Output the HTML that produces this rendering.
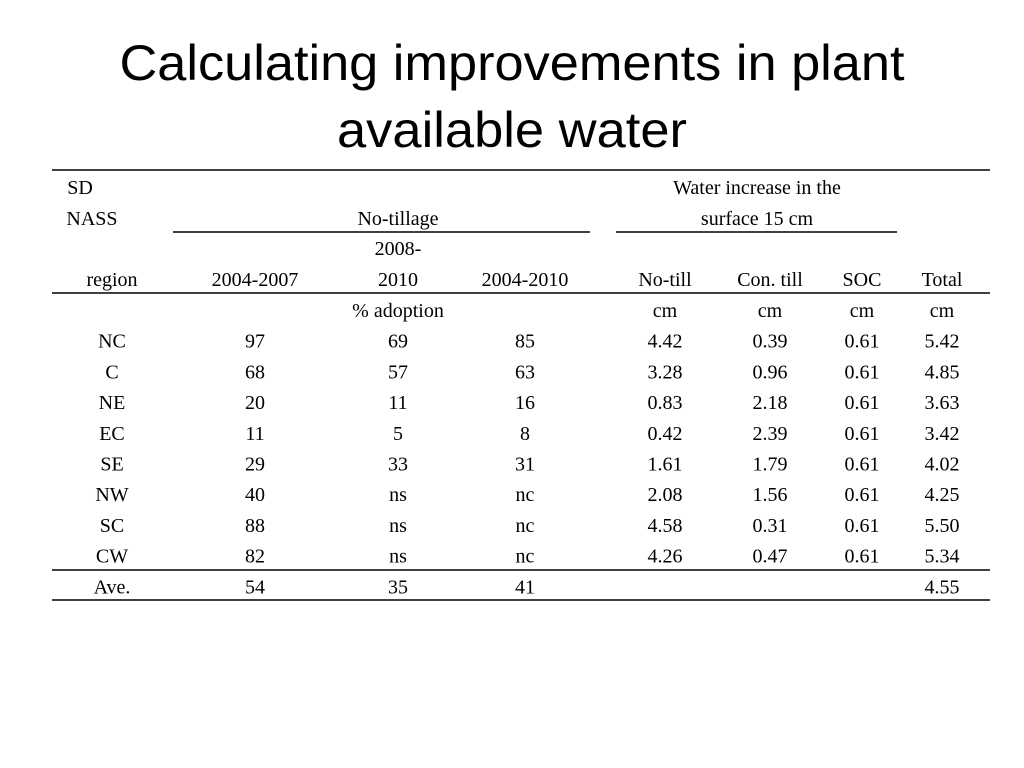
<!DOCTYPE html>
<html><head><meta charset="utf-8"><style>
html,body{margin:0;padding:0;background:#fff;}
svg{display:block;}
.t{font-family:"Liberation Serif",serif;font-size:20px;fill:#000;}
.ttl{font-family:"Liberation Sans",sans-serif;font-size:50px;fill:#000;}
</style></head><body>
<svg id="s" width="1024" height="768">
<text class="ttl" x="512" y="80" text-anchor="middle" textLength="785" lengthAdjust="spacingAndGlyphs">Calculating improvements in plant</text>
<text class="ttl" x="512" y="147" text-anchor="middle" textLength="350" lengthAdjust="spacingAndGlyphs">available water</text>
<g stroke="#000" stroke-width="1.5">
<line x1="52" y1="170" x2="990" y2="170"/>
<line x1="173" y1="232" x2="590" y2="232"/>
<line x1="616" y1="232" x2="897" y2="232"/>
<line x1="52" y1="293" x2="990" y2="293"/>
<line x1="52" y1="570" x2="990" y2="570"/>
<line x1="52" y1="600" x2="990" y2="600"/>
</g>
<g id="hdr">
<text class="t" x="80" y="194" text-anchor="middle">SD</text>
<text class="t" x="92" y="225" text-anchor="middle">NASS</text>
<text class="t" x="398" y="225" text-anchor="middle">No-tillage</text>
<text class="t" x="757" y="194" text-anchor="middle">Water increase in the</text>
<text class="t" x="757" y="225" text-anchor="middle">surface 15 cm</text>
<text class="t" x="398" y="255" text-anchor="middle">2008-</text>
<text class="t" x="112" y="286" text-anchor="middle">region</text>
<text class="t" x="255" y="286" text-anchor="middle">2004-2007</text>
<text class="t" x="398" y="286" text-anchor="middle">2010</text>
<text class="t" x="525" y="286" text-anchor="middle">2004-2010</text>
<text class="t" x="665" y="286" text-anchor="middle">No-till</text>
<text class="t" x="770" y="286" text-anchor="middle">Con. till</text>
<text class="t" x="862" y="286" text-anchor="middle">SOC</text>
<text class="t" x="942" y="286" text-anchor="middle">Total</text>
</g>
<g id="body"></g>
</svg>
<script>
const regions=["","NC","C","NE","EC","SE","NW","SC","CW","Ave."];
const adopt0407=["","97","68","20","11","29","40","88","82","54"];
const adopt0810=["% adoption","69","57","11","5","33","ns","ns","ns","35"];
const adopt0410=["","85","63","16","8","31","nc","nc","nc","41"];
const noTill=["cm","4.42","3.28","0.83","0.42","1.61","2.08","4.58","4.26",""];
const conTill=["cm","0.39","0.96","2.18","2.39","1.79","1.56","0.31","0.47",""];
const soc=["cm","0.61","0.61","0.61","0.61","0.61","0.61","0.61","0.61",""];
const total=["cm","5.42","4.85","3.63","3.42","4.02","4.25","5.50","5.34","4.55"];
const cols=[regions,adopt0407,adopt0810,adopt0410,noTill,conTill,soc,total];
const colX=[112,255,398,525,665,770,862,942];
const g=document.getElementById('body');
const NS="http://www.w3.org/2000/svg";
for(let r=0;r<regions.length;r++){
  const y=317+r*30.7;
  for(let c=0;c<cols.length;c++){
    const v=cols[c][r]; if(!v) continue;
    const t=document.createElementNS(NS,'text');
    t.setAttribute('class','t');
    t.setAttribute('x',colX[c]);
    t.setAttribute('y',y.toFixed(1));
    t.setAttribute('text-anchor','middle');
    
    
    t.textContent=v;
    g.appendChild(t);
  }
}
</script>
</body></html>
